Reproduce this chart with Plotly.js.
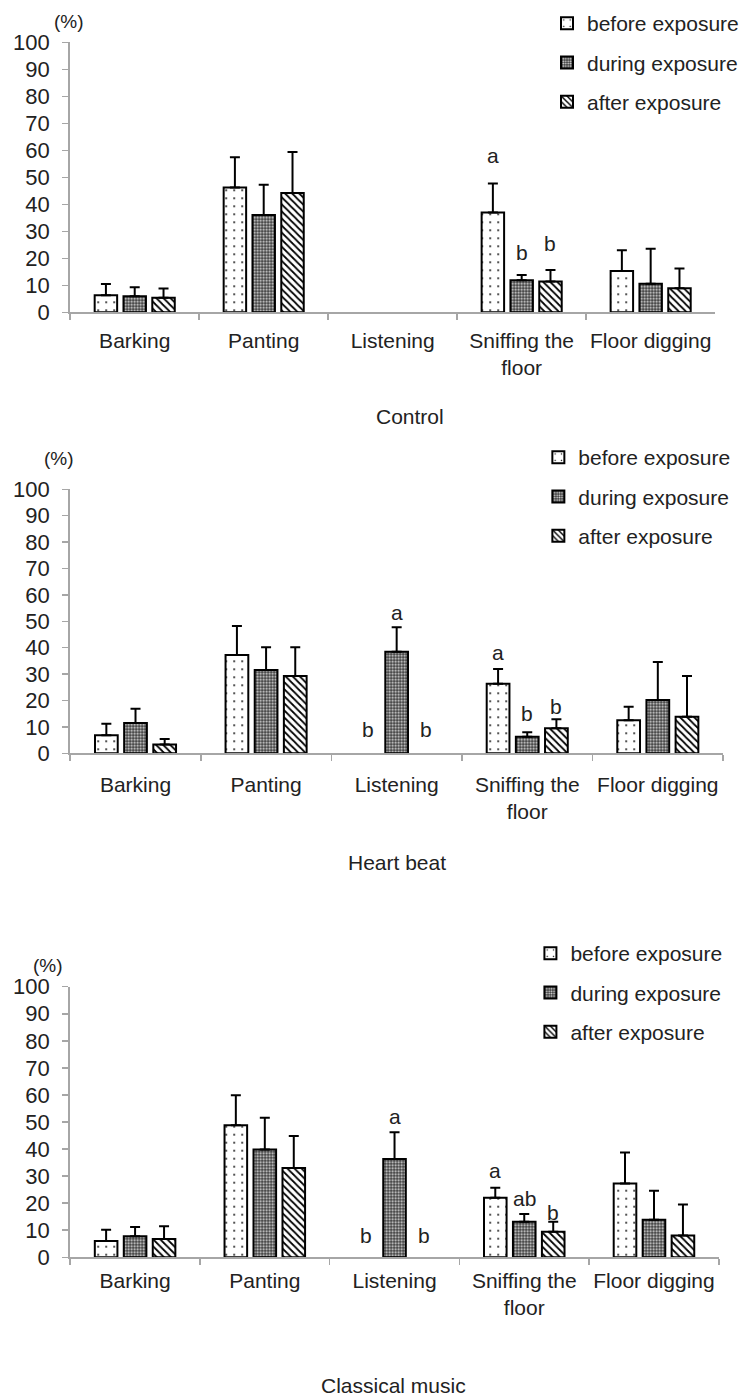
<!DOCTYPE html>
<html>
<head>
<meta charset="utf-8">
<script src="https://cdn.plot.ly/plotly-3.0.1.min.js"></script>
<style>html,body{margin:0;padding:0;background:#fff;}</style>
</head>
<body>
<div id="chart" style="width:744px;height:1400px;"></div>
<script>
// ---------- DATA ----------
const categories = ['Barking', 'Panting', 'Listening', 'Sniffing the<br>floor', 'Floor digging'];
const seriesNames = ['before exposure', 'during exposure', 'after exposure'];
const panelTitles = ['Control', 'Heart beat', 'Classical music'];

// Control
const controlBefore    = [6.3, 46.2, null, 37.0, 15.3];
const controlBeforeErr = [4.2, 11.2, null, 10.7, 7.7];
const controlDuring    = [5.9, 36.0, null, 11.9, 10.6];
const controlDuringErr = [3.4, 11.2, null, 1.9, 12.9];
const controlAfter     = [5.4, 44.2, null, 11.4, 8.9];
const controlAfterErr  = [3.4, 15.2, null, 4.3, 7.3];
// [categoryIndex, seriesIndex, letter, y]
const controlLetters = [[3, 0, 'a', 58.1], [3, 1, 'b', 22.2], [3, 2, 'b', 25.3]];

// Heart beat
const heartBefore    = [6.8, 37.2, null, 26.3, 12.5];
const heartBeforeErr = [4.4, 11.0, null, 5.6, 5.1];
const heartDuring    = [11.5, 31.6, 38.5, 6.3, 20.2];
const heartDuringErr = [5.4, 8.6, 9.2, 1.7, 14.4];
const heartAfter     = [3.3, 29.3, null, 9.5, 13.8];
const heartAfterErr  = [2.1, 10.9, null, 3.4, 15.5];
const heartLetters = [[2, 0, 'b', 9.2], [2, 1, 'a', 53.4], [2, 2, 'b', 9.2],
                      [3, 0, 'a', 38.3], [3, 1, 'b', 15.2], [3, 2, 'b', 17.8]];

// Classical music
const classicBefore    = [6.0, 48.8, null, 22.0, 27.3];
const classicBeforeErr = [4.2, 11.1, null, 3.7, 11.4];
const classicDuring    = [7.8, 39.8, 36.3, 13.1, 13.9];
const classicDuringErr = [3.4, 11.8, 9.9, 2.9, 10.7];
const classicAfter     = [6.8, 33.0, null, 9.4, 8.1];
const classicAfterErr  = [4.7, 11.8, null, 3.7, 11.4];
const classicLetters = [[2, 0, 'b', 8.2], [2, 1, 'a', 52.1], [2, 2, 'b', 8.2],
                        [3, 0, 'a', 32.0], [3, 1, 'ab', 21.8], [3, 2, 'b', 16.7]];

const panelValues = [
  [controlBefore, controlDuring, controlAfter],
  [heartBefore, heartDuring, heartAfter],
  [classicBefore, classicDuring, classicAfter]
];
const panelErrors = [
  [controlBeforeErr, controlDuringErr, controlAfterErr],
  [heartBeforeErr, heartDuringErr, heartAfterErr],
  [classicBeforeErr, classicDuringErr, classicAfterErr]
];
const panelLetters = [controlLetters, heartLetters, classicLetters];

// ---------- STYLE ----------
const W = 744, H = 1400;
const FONT = 'Liberation Sans, Arial, sans-serif';
const TXT = '#222222';
const AX = '#a6a6a6';
const FS = 21;
const bargap = 0.33;
const slot = (1 - bargap) / 3;

const patterns = [
  {color: '#ffffff', pattern: {shape: '.', fgcolor: '#000000', bgcolor: '#ffffff', size: 8, solidity: 0.04, fillmode: 'replace'}},
  {color: '#444444', pattern: {shape: '.', fgcolor: '#e6e6e6', bgcolor: '#3a3a3a', size: 3, solidity: 0.4, fillmode: 'replace'}},
  {color: '#ffffff', pattern: {shape: '\\', fgcolor: '#000000', bgcolor: '#ffffff', size: 5, solidity: 0.35, fillmode: 'replace'}}
];

// pixel geometry of each panel: [xLeft, xRight, yTop(100), yBottom(0)]
const panelPx = [
  [70.7, 720.0, 42.3, 312.3],
  [70.7, 728.0, 489.3, 753.3],
  [70.7, 723.7, 986.7, 1257.3]
];
const labelStandoff = [8, 11, 3];
const titlePos = [[413, 416], [400, 862], [396, 1385]];
const pctPos = [[69, 22], [59, 458], [48, 965]];
const legendPos = [[551, 3], [542, 437], [534, 933]];

const traces = [];
const layout = {
  width: W, height: H,
  margin: {l: 0, r: 0, t: 0, b: 0},
  paper_bgcolor: '#ffffff', plot_bgcolor: 'rgba(0,0,0,0)',
  font: {family: FONT, size: FS, color: TXT},
  barmode: 'group', bargap: bargap, bargroupgap: 0.22,
  showlegend: true,
  annotations: []
};

for (let p = 0; p < 3; p++) {
  const sfx = p === 0 ? '' : String(p + 1);
  const xa = 'x' + sfx, ya = 'y' + sfx;
  const lg = 'legend' + sfx;
  for (let s = 0; s < 3; s++) {
    const err = panelErrors[p][s];
    traces.push({
      type: 'bar',
      name: seriesNames[s],
      x: categories,
      y: panelValues[p][s],
      xaxis: xa, yaxis: ya,
      legend: lg,
      legendgroup: 'p' + p + 's' + s,
      marker: {color: patterns[s].color, pattern: patterns[s].pattern, line: {color: '#000000', width: 2}},
      error_y: {type: 'data', symmetric: false, array: err, arrayminus: err.map(v => v === null ? null : 0),
                color: '#000000', thickness: 2, width: 5},
      hoverinfo: 'skip'
    });
  }
  const g = panelPx[p];
  layout['xaxis' + sfx] = {
    domain: [g[0] / W, g[1] / W], anchor: ya, type: 'category',
    range: [-0.5, 4.5], tickson: 'boundaries', ticks: 'outside', ticklen: 6,
    tickcolor: AX, tickwidth: 1.5, showline: true, linecolor: AX, linewidth: 2,
    showgrid: false, zeroline: false, ticklabelstandoff: labelStandoff[p],
    tickangle: 0, automargin: false,
    tickfont: {family: FONT, size: FS, color: TXT}
  };
  layout['yaxis' + sfx] = {
    domain: [1 - g[3] / H, 1 - g[2] / H], anchor: xa,
    range: [0, 100], dtick: 10, tick0: 0, ticks: 'outside', ticklen: 6,
    tickcolor: AX, tickwidth: 1.5, showline: true, linecolor: AX, linewidth: 2,
    showgrid: false, zeroline: false, ticklabelstandoff: 8, automargin: false,
    tickfont: {family: FONT, size: 22, color: TXT}
  };
  layout[lg] = {
    x: legendPos[p][0] / W, y: 1 - legendPos[p][1] / H, xanchor: 'left', yanchor: 'top',
    bgcolor: 'rgba(0,0,0,0)', borderwidth: 0, tracegroupgap: 9, traceorder: 'grouped',
    font: {family: FONT, size: FS, color: TXT}, itemwidth: 30
  };
  // panel title
  layout.annotations.push({
    xref: 'paper', yref: 'paper', x: titlePos[p][0] / W, y: 1 - titlePos[p][1] / H,
    xanchor: 'center', yanchor: 'middle', showarrow: false, text: panelTitles[p],
    font: {family: FONT, size: FS, color: TXT}
  });
  // (%)
  layout.annotations.push({
    xref: 'paper', yref: 'paper', x: pctPos[p][0] / W, y: 1 - pctPos[p][1] / H,
    xanchor: 'center', yanchor: 'middle', showarrow: false, text: '(%)',
    font: {family: FONT, size: 19, color: TXT}
  });
  // significance letters
  panelLetters[p].forEach(L => {
    layout.annotations.push({
      xref: xa, yref: ya, x: L[0] + (L[1] - 1) * slot, y: L[3],
      xanchor: 'center', yanchor: 'middle', showarrow: false, text: L[2],
      font: {family: FONT, size: FS, color: TXT}
    });
  });
}

Plotly.newPlot('chart', traces, layout, {staticPlot: true, displayModeBar: false});
</script>
</body>
</html>
